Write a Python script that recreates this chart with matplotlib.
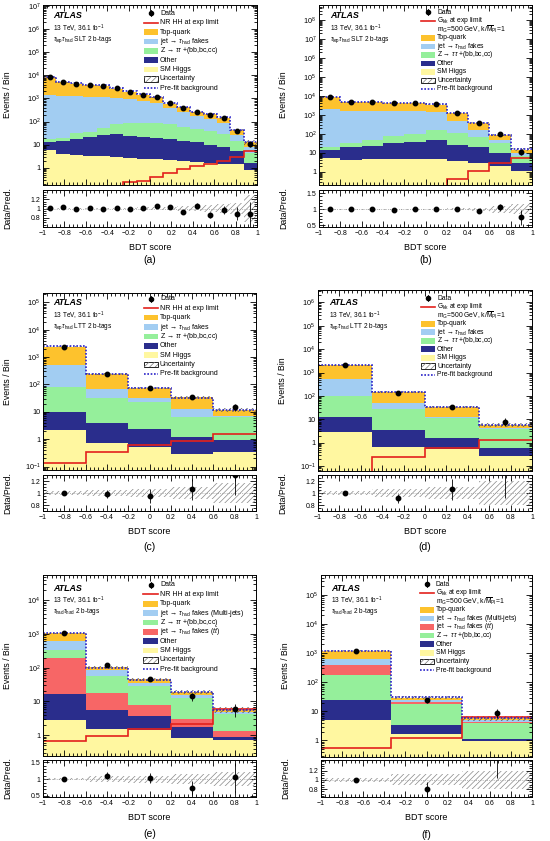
import numpy as np
import matplotlib
matplotlib.use('Agg')
import matplotlib.pyplot as plt
from matplotlib.patches import Rectangle
from matplotlib.lines import Line2D
from matplotlib.ticker import MultipleLocator, LogLocator, NullFormatter, FuncFormatter, FixedLocator

plt.rcParams['font.family'] = ['Liberation Sans', 'DejaVu Sans']
plt.rcParams['mathtext.fontset'] = 'custom'
plt.rcParams['mathtext.rm'] = 'Liberation Sans'
plt.rcParams['mathtext.it'] = 'Liberation Sans:italic'
plt.rcParams['mathtext.bf'] = 'Liberation Sans:bold'
plt.rcParams['hatch.linewidth'] = 0.5
plt.rcParams['axes.linewidth'] = 0.7

# ---------------- data ----------------
# (a) tau_lep tau_had SLT, NR HH BDT
a_higgs = [6, 3.8, 3.5, 3.3, 3.1, 2.9, 2.7, 2.5, 2.3, 2.1, 1.9, 1.7, 1.6, 1.5, 1.4, 0.8]
a_other = [7, 11, 14.5, 19, 24, 25, 22, 19.5, 17.5, 16, 13, 11, 8.5, 6.5, 4, 0.8]
a_ztt = [4, 5, 14, 14, 28, 47, 60, 68, 65, 62, 45, 37, 30, 22, 9.5, 2.9]
a_fakes = [1380, 1280, 1220, 1160, 1100, 975, 865, 710, 565, 300, 200, 120, 90, 60, 12, 3.5]
a_top = [6700, 3650, 3110, 2660, 2420, 1600, 990, 620, 460, 220, 160, 78, 83, 54, 17, 4.6]
a_data = [8100, 5100, 4300, 3900, 3500, 2700, 1900, 1450, 1170, 620, 390, 260, 183, 140, 39, 11]
a_signal = [0.1, 0.1, 0.1, 0.1, 0.1, 0.1, 0.25, 0.27, 0.4, 0.6, 0.85, 1.2, 1.4, 2.0, 3.0, 5.2]
a_prefit = [8600, 5300, 4500, 4000, 3700, 2750, 2000, 1500, 1150, 650, 440, 270, 220, 150, 45, 13]
a_unc = [0.02, 0.02, 0.02, 0.02, 0.02, 0.02, 0.02, 0.025, 0.03, 0.04, 0.05, 0.06, 0.07, 0.09, 0.12, 0.3]

# (b) tau_lep tau_had SLT, G_kk 500 GeV BDT
b_higgs = [5.5, 4.4, 4.5, 4.6, 4.6, 4.5, 3.5, 2.8, 2.0, 1.1]
b_other = [8.5, 14.6, 18.5, 27.4, 33.4, 43.5, 21.5, 16.2, 8, 1.7]
b_ztt = [7, 12, 24, 44, 59, 109, 89, 51, 24, 4.2]
b_fakes = [1930, 1620, 1600, 1420, 1400, 1240, 376, 90, 13, 2.2]
b_top = [6350, 2800, 2900, 2540, 2560, 2030, 760, 215, 42, 5.5]
b_data = [8300, 4500, 4600, 4000, 4100, 3500, 1250, 360, 95, 11]
b_signal = [0.05, 0.05, 0.05, 0.05, 0.05, 0.05, 0.4, 1.15, 2.8, 5.5]
b_prefit = [8600, 4600, 4700, 4100, 4150, 3550, 1300, 380, 90, 15]
b_unc = [0.01, 0.01, 0.01, 0.01, 0.015, 0.02, 0.03, 0.05, 0.1, 0.15]

# (c) tau_lep tau_had LTT, NR HH BDT
c_higgs = [2.2, 0.72, 0.52, 0.30, 0.33]
c_other = [7.8, 3.3, 1.8, 0.95, 0.62]
c_ztt = [70, 29, 19.7, 5.35, 5.35]
c_fakes = [440, 37, 11, 6.4, 1.0]
c_top = [1880, 170, 43, 21, 4.2]
c_data = [2400, 235, 72, 36, 15]
c_signal = [0.14, 0.33, 0.6, 0.85, 1.5]
c_prefit = [2500, 245, 75, 33, 11.5]
c_unc = [0.03, 0.05, 0.07, 0.1, 0.17]

# (d) tau_lep tau_had LTT, G_kk BDT
d_higgs = [2.8, 0.62, 0.55, 0.27]
d_other = [9.2, 3.0, 1.05, 0.33]
d_ztt = [83, 23.4, 9.4, 3.2]
d_fakes = [455, 25, 1.5, 0.5]
d_top = [1500, 95, 20.5, 1.3]
d_data = [2050, 134, 35, 8]
d_signal = [0.02, 0.24, 0.58, 1.3]
d_prefit = [2100, 150, 33, 5.8]
d_unc = [0.03, 0.07, 0.1, 0.2]

# (e) tau_had tau_had, NR HH BDT
e_higgs = [2.9, 1.55, 1.4, 0.8, 0.7]
e_other = [14.1, 4.15, 2.3, 0.9, 0.2]
e_ttfakes = [173, 12.3, 4.3, 1.4, 0.45]
e_ztt = [150, 40, 21, 9.9, 2.85]
e_mjfakes = [280, 27, 5, 2.5, 0.7]
e_top = [440, 21, 11, 3.5, 0.8]
e_data = [1060, 117, 46, 14, 6]
e_signal = [0.68, 0.95, 1.55, 2.15, 5.9]
e_prefit = [1100, 100, 42, 18.5, 5.5]
e_unc = [0.03, 0.08, 0.1, 0.15, 0.2]

# (f) tau_had tau_had, G_kk BDT
f_higgs = [5.2, 1.7, 0.95]
f_other = [19.8, 1.6, 0.2]
f_ztt = [149, 14.2, 2.95]
f_ttfakes = [226, 3.5, 0.2]
f_mjfakes = [250, 4, 0.6]
f_top = [550, 5, 0.9]
f_data = [1200, 24, 9]
f_signal = [0.55, 1.25, 6.3]
f_prefit = [1230, 32, 6.0]
f_unc = [0.04, 0.12, 0.2]

# ---------------- style ----------------
C_TOP = '#fdc22d'
C_FAKE = '#a2cdf2'
C_Z = '#95ef9b'
C_OTHER = '#2a2d8c'
C_HIGGS = '#fff7a0'
C_TT = '#f76666'
C_SIG = '#e3211c'
C_PRE = '#2a22c8'

L_DATA = 'Data'
L_NR = 'NR HH at exp limit'
L_G1 = r'G$_{\mathrm{kk}}$ at exp limit'
L_G2 = r'm$_{\mathrm{G}}$=500 GeV, k/$\overline{\mathrm{M}}_{\mathrm{Pl}}$=1'
L_TOP = 'Top-quark'
L_FAKE = r'jet → $\tau_{\mathrm{had}}$ fakes'
L_MJ = r'jet → $\tau_{\mathrm{had}}$ fakes (Multi-jets)'
L_TT = r'jet → $\tau_{\mathrm{had}}$ fakes ($t\bar{t}$)'
L_Z = r'Z → $\tau\tau$ +(bb,bc,cc)'
L_OTHER = 'Other'
L_HIGGS = 'SM Higgs'
L_UNC = 'Uncertainty'
L_PRE = 'Pre-fit background'

W, H = 550, 841
fig = plt.figure(figsize=(W / 100, H / 100), dpi=100)


def fx(x):
    return x / W


def fy(y):
    return 1 - y / H


def add_ax(x0, x1, y0, y1):
    return fig.add_axes([fx(x0), fy(y1), (x1 - x0) / W, (y1 - y0) / H])


def xfmt(v, pos):
    if abs(v) < 1e-9:
        return '0'
    s = ('%.1f' % v).rstrip('0').rstrip('.')
    return s.replace('-', '\u2212')


def yfmt(v, pos):
    if v <= 0:
        return ''
    e = int(round(np.log10(v)))
    if abs(np.log10(v) - e) > 1e-6:
        return ''
    if e == 0:
        return '1'
    if e == 1:
        return '10'
    return r'$10^{%d}$' % e


def rfmt(v, pos):
    return ('%.1f' % v).rstrip('0').rstrip('.')


def style_axes(ax, fs=5.2):
    ax.tick_params(which='both', direction='in', top=True, right=True, labelsize=fs, width=0.6, pad=2)
    ax.tick_params(which='major', length=4)
    ax.tick_params(which='minor', length=2)
    ax.set_xlim(-1, 1)
    ax.xaxis.set_major_locator(MultipleLocator(0.2))
    ax.xaxis.set_minor_locator(MultipleLocator(0.04))


def draw_legend(entries, hx0, hx1, tx, y0, sp, fs):
    for i, (kind, label) in enumerate(entries):
        y = y0 + i * sp
        hh = 5.6
        if kind in (C_TOP, C_FAKE, C_Z, C_OTHER, C_HIGGS, C_TT):
            fig.add_artist(Rectangle((fx(hx0), fy(y + hh / 2)), (hx1 - hx0) / W, hh / H,
                                     transform=fig.transFigure, facecolor=kind, edgecolor='none'))
        elif kind == 'unc':
            fig.add_artist(Rectangle((fx(hx0), fy(y + hh / 2)), (hx1 - hx0) / W, hh / H,
                                     transform=fig.transFigure, facecolor='white', edgecolor='black',
                                     lw=0.6))
            fig.add_artist(Rectangle((fx(hx0), fy(y + hh / 2)), (hx1 - hx0) / W, hh / H,
                                     transform=fig.transFigure, facecolor='none', edgecolor='#777777',
                                     hatch='//////', lw=0))
        elif kind == 'sig':
            fig.add_artist(Line2D([fx(hx0), fx(hx1)], [fy(y), fy(y)], transform=fig.transFigure,
                                  color=C_SIG, lw=1.2))
        elif kind == 'pre':
            fig.add_artist(Line2D([fx(hx0), fx(hx1)], [fy(y), fy(y)], transform=fig.transFigure,
                                  color=C_PRE, lw=1.2, ls=(0, (1, 1))))
        elif kind == 'data':
            xc = (hx0 + hx1) / 2
            fig.add_artist(Line2D([fx(xc), fx(xc)], [fy(y - 3), fy(y + 3)], transform=fig.transFigure,
                                  color='k', lw=0.6))
            fig.add_artist(Line2D([fx(xc)], [fy(y)], transform=fig.transFigure, marker='o', ms=3.0,
                                  color='k', ls=''))
        fig.text(fx(tx), fy(y), label, fontsize=fs, va='center', ha='left')


def draw_panel(mainbox, ratiobox, stack, data, signal, prefit, unc, ylim, rlim, rmajor, rminor,
               texts, legend, letter, xlab_y, let_y):
    nb = len(data)
    edges = np.linspace(-1, 1, nb + 1)
    centers = 0.5 * (edges[:-1] + edges[1:])
    data = np.asarray(data, float)
    vals = np.array([np.asarray(v, float) for v, c in stack])
    cum = np.cumsum(vals, axis=0)
    total = cum[-1]
    unc = np.asarray(unc, float)

    ax = add_ax(*mainbox)
    ax.set_yscale('log')
    base = np.full(nb, 1e-6)
    for i, (v, col) in enumerate(stack):
        ax.stairs(cum[i], edges, baseline=(cum[i - 1] if i > 0 else base), fill=True,
                  facecolor=col, edgecolor='none', lw=0)
    ax.stairs(total * (1 + unc), edges, baseline=total * (1 - unc), fill=True, facecolor='none',
              edgecolor='#555555', hatch='//////', lw=0)
    ax.stairs(np.asarray(signal, float), edges, baseline=None, color=C_SIG, lw=1.2)
    ax.stairs(np.asarray(prefit, float), edges, baseline=None, color=C_PRE, lw=1.2, ls=(0, (1, 1)))
    ax.errorbar(centers, data, yerr=np.sqrt(data), fmt='o', ms=3.2, color='k', elinewidth=0.6,
                capsize=0)
    style_axes(ax)
    ax.set_ylim(*ylim)
    ax.yaxis.set_major_locator(LogLocator(base=10, numticks=30))
    ax.yaxis.set_minor_locator(LogLocator(base=10, subs=np.arange(2, 10), numticks=30))
    ax.yaxis.set_minor_formatter(NullFormatter())
    ax.yaxis.set_major_formatter(FuncFormatter(yfmt))
    ax.tick_params(axis='x', labelbottom=False)
    ax.set_ylabel('Events / Bin', fontsize=6.3)
    ax.yaxis.set_label_coords(-0.145, 0.5)

    axr = add_ax(*ratiobox)
    axr.stairs(1 + unc, edges, baseline=1 - unc, fill=True, facecolor='none', edgecolor='#888888',
               hatch='//////', lw=0)
    axr.axhline(1, color='#9a9a9a', ls=':', lw=0.6)
    axr.errorbar(centers, data / total, yerr=np.sqrt(data) / total, fmt='o', ms=3.2, color='k',
                 elinewidth=0.6, capsize=0)
    style_axes(axr, fs=5.0)
    axr.set_ylim(*rlim)
    axr.yaxis.set_major_locator(FixedLocator(rmajor))
    axr.yaxis.set_minor_locator(MultipleLocator(rminor))
    axr.yaxis.set_major_formatter(FuncFormatter(rfmt))
    axr.xaxis.set_major_formatter(FuncFormatter(xfmt))
    axr.set_ylabel('Data/Pred.', fontsize=6.3)
    axr.yaxis.set_label_coords(-0.145, 0.5)

    xc = (mainbox[0] + mainbox[1]) / 2
    fig.text(fx(xc), fy(xlab_y), 'BDT score', fontsize=6.5, ha='center', va='center')
    fig.text(fx(xc), fy(let_y), letter, fontsize=7.5, ha='center', va='center')

    tx, ty = texts[0]
    fig.text(fx(tx), fy(ty), 'ATLAS', fontsize=6.4, fontweight='bold', fontstyle='italic', va='center')
    fig.text(fx(tx), fy(ty + 13), r'13 TeV, 36.1 fb$^{-1}$', fontsize=4.7, va='center')
    fig.text(fx(tx), fy(ty + 23.5), texts[1], fontsize=4.7, va='center')

    draw_legend(*legend)


leg_nr = [('data', L_DATA), ('sig', L_NR), (C_TOP, L_TOP), (C_FAKE, L_FAKE), (C_Z, L_Z),
          (C_OTHER, L_OTHER), (C_HIGGS, L_HIGGS), ('unc', L_UNC), ('pre', L_PRE)]
leg_g = [('data', L_DATA), ('sig', L_G1), ('none', L_G2), (C_TOP, L_TOP), (C_FAKE, L_FAKE),
         (C_Z, L_Z), (C_OTHER, L_OTHER), (C_HIGGS, L_HIGGS), ('unc', L_UNC), ('pre', L_PRE)]
leg_e = [('data', L_DATA), ('sig', L_NR), (C_TOP, L_TOP), (C_FAKE, L_MJ), (C_Z, L_Z),
         (C_TT, L_TT), (C_OTHER, L_OTHER), (C_HIGGS, L_HIGGS), ('unc', L_UNC), ('pre', L_PRE)]
leg_f = [('data', L_DATA), ('sig', L_G1), ('none', L_G2), (C_TOP, L_TOP), (C_FAKE, L_MJ),
         (C_TT, L_TT), (C_Z, L_Z), (C_OTHER, L_OTHER), (C_HIGGS, L_HIGGS), ('unc', L_UNC),
         ('pre', L_PRE)]

T_SLT = r'$\tau_{\mathrm{lep}}\tau_{\mathrm{had}}$ SLT 2 b-tags'
T_LTT = r'$\tau_{\mathrm{lep}}\tau_{\mathrm{had}}$ LTT 2 b-tags'
T_HH = r'$\tau_{\mathrm{had}}\tau_{\mathrm{had}}$ 2 b-tags'

draw_panel((43, 257, 5, 185), (43, 257, 190, 227),
           [(a_higgs, C_HIGGS), (a_other, C_OTHER), (a_ztt, C_Z), (a_fakes, C_FAKE), (a_top, C_TOP)],
           a_data, a_signal, a_prefit, a_unc, (0.18, 1.1e7), (0.6, 1.4), [0.8, 1, 1.2], 0.05,
           ((53, 16), T_SLT), (leg_nr, 144, 158, 160, 13.3, 9.37, 5.0), '(a)', 247, 260)

draw_panel((319, 532, 5, 185), (319, 532, 190, 227),
           [(b_higgs, C_HIGGS), (b_other, C_OTHER), (b_ztt, C_Z), (b_fakes, C_FAKE), (b_top, C_TOP)],
           b_data, b_signal, b_prefit, b_unc, (0.2, 6e8), (0.45, 1.6), [0.5, 1, 1.5], 0.1,
           ((330, 16), T_SLT), (leg_g, 421, 435, 437, 12.3, 8.5, 4.9), '(b)', 247, 260)

draw_panel((43, 256, 293, 470), (43, 256, 475, 511),
           [(c_higgs, C_HIGGS), (c_other, C_OTHER), (c_ztt, C_Z), (c_fakes, C_FAKE), (c_top, C_TOP)],
           c_data, c_signal, c_prefit, c_unc, (0.075, 2.2e5), (0.7, 1.3), [0.8, 1, 1.2], 0.05,
           ((53, 302.7), T_LTT), (leg_nr, 144, 158, 160, 299, 9.35, 5.0), '(c)', 532, 547)

draw_panel((318, 532, 290, 471), (318, 532, 475, 511),
           [(d_higgs, C_HIGGS), (d_other, C_OTHER), (d_ztt, C_Z), (d_fakes, C_FAKE), (d_top, C_TOP)],
           d_data, d_signal, d_prefit, d_unc, (0.061, 3.4e6), (0.7, 1.3), [0.8, 1, 1.2], 0.05,
           ((329, 302.7), T_LTT), (leg_g, 421, 435, 437, 298.3, 8.49, 4.9), '(d)', 532, 547)

draw_panel((43, 256, 575, 756), (43, 256, 760, 797),
           [(e_higgs, C_HIGGS), (e_other, C_OTHER), (e_ttfakes, C_TT), (e_ztt, C_Z),
            (e_mjfakes, C_FAKE), (e_top, C_TOP)],
           e_data, e_signal, e_prefit, e_unc, (0.24, 5.6e4), (0.47, 1.57), [0.5, 1, 1.5], 0.1,
           ((53, 588.3), T_HH), (leg_e, 143, 158, 160, 585, 9.37, 5.0), '(e)', 818, 834)

draw_panel((321, 532, 575, 757), (321, 532, 760, 797),
           [(f_higgs, C_HIGGS), (f_other, C_OTHER), (f_ztt, C_Z), (f_ttfakes, C_TT),
            (f_mjfakes, C_FAKE), (f_top, C_TOP)],
           f_data, f_signal, f_prefit, f_unc, (0.27, 4.9e5), (0.63, 1.43), [0.8, 1, 1.2], 0.05,
           ((331, 588.3), T_HH), (leg_f, 420, 434, 436, 584, 8.6, 4.9), '(f)', 818, 835)

fig.savefig('out.png', dpi=100)
